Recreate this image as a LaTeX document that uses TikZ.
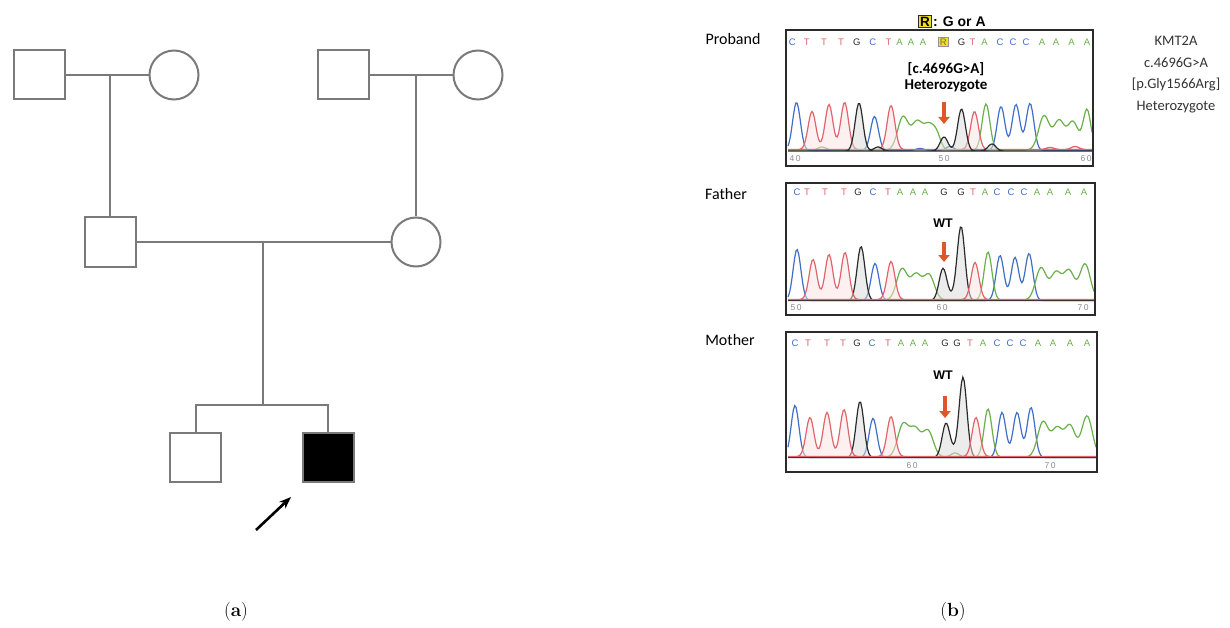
\documentclass[tikz,border=0pt]{standalone}
\usepackage{fontspec}
\newfontfamily\calfont{Carlito}
\newfontfamily\arialfont{Liberation Sans}
\usetikzlibrary{arrows.meta}
\definecolor{pedgray}{HTML}{7A7A7A}
\definecolor{sb}{HTML}{3F6FC6}
\definecolor{sr}{HTML}{E2646B}
\definecolor{sg}{HTML}{6BB04A}
\definecolor{sk}{HTML}{2B2B2B}
\definecolor{mutred}{HTML}{E0552A}
\definecolor{ryellow}{HTML}{F3DE25}
\begin{document}
\begin{tikzpicture}[x=1pt,y=-1pt,
  declare function={
    g(\xa,\ca,\ha)=\ha*exp(-min(((\xa-\ca)/5.5)*((\xa-\ca)/5.5),9));
    gw(\xa,\ca,\ha)=\ha*exp(-min(((\xa-\ca)/7.5)*((\xa-\ca)/7.5),9));
  },
  pedline/.style={draw=pedgray, line width=2pt},
  male/.style={draw=pedgray, line width=2pt, rectangle, minimum width=51pt, minimum height=49pt, inner sep=0pt, fill=white},
  female/.style={draw=pedgray, line width=2pt, circle, minimum size=49pt, inner sep=0pt, fill=white},
  probarrow/.style={line width=2.6pt, -{Stealth[length=12pt,width=9pt]}},
  captext/.style={font=\fontsize{19}{21}\selectfont, inner sep=0pt},
  lab/.style={font=\calfont\fontsize{16}{18}\selectfont, inner sep=0pt},
  info/.style={font=\calfont\fontsize{14.5}{16}\selectfont, text=black!80, inner sep=0pt},
  mut/.style={font=\calfont\bfseries\fontsize{15}{17}\selectfont, inner sep=0pt},
  seq/.style={font=\arialfont\fontsize{9.5}{10}\selectfont, inner sep=0pt},
  axn/.style={font=\arialfont\fontsize{8.5}{9}\selectfont, text=black!45, inner sep=0pt},
  wt/.style={font=\arialfont\bfseries\fontsize{12.5}{13}\selectfont, inner sep=0pt},
  panel/.style={draw=sk, line width=1.1pt},
  redarrow/.style={draw=mutred, line width=4.5pt, -{Triangle[length=7pt,width=11pt]}},
  trace/.style={line width=1.2pt},
  redfill/.style={fill=sr!18, fill opacity=0.5},
  blackfill/.style={fill=black!14, fill opacity=0.5},
]
\useasboundingbox (0,0) rectangle (1230,628);
\fill[white] (0,0) rectangle (1230,628);

% ---------------- pedigree ----------------
\node[male]   (gf1) at (39,75) {};
\node[female] (gm1) at (174,75) {};
\node[male]   (gf2) at (343,75) {};
\node[female] (gm2) at (478,75) {};
\node[male]   (fa)  at (110,242) {};
\node[female] (mo)  at (416,242) {};
\node[male]   (sib) at (195.5,457.5) {};
\node[male, fill=black] (pro) at (328,457.5) {};
\coordinate (m1) at (110,75);
\coordinate (m2) at (416,75);
\coordinate (m3) at (263,242);
\coordinate (s1) at (263,405);
\draw[pedline] (gf1.east) -- (gm1.west);
\draw[pedline] (gf2.east) -- (gm2.west);
\draw[pedline] (m1) -- (fa.north);
\draw[pedline] (m2) -- (mo.north);
\draw[pedline] (fa.east) -- (mo.west);
\draw[pedline] (m3) -- (s1);
\draw[pedline] (sib.north) |- (s1) -| (pro.north);
\coordinate (pat) at (256,530);
\coordinate (pah) at (291,497);
\draw[probarrow] (pat) -- (pah);

\node[captext] (ca) at (236,612) {(\textbf{a})};
\node[captext] (cb) at (953,612) {(\textbf{b})};

% ---------------- header ----------------
\node[font=\arialfont\bfseries\fontsize{13.5}{14}\selectfont, fill=ryellow, draw=sk, line width=0.9pt, inner xsep=1.5pt, inner ysep=1.2pt] (rt) at (925,21.5) {R};
\node[font=\arialfont\bfseries\fontsize{14}{15}\selectfont, anchor=west, inner sep=0pt] (rtx) at ([xshift=1pt]rt.east) {: G or A};

\node[lab] (lp) at (733,39) {Proband};
\node[lab] (lf) at (726,194) {Father};
\node[lab] (lm) at (730,340) {Mother};

\node[info] (k1) at (1176,41) {KMT2A};
\node[info] (k2) at (1176,63) {c.4696G>A};
\node[info] (k3) at (1176,85) {[p.Gly1566Arg]};
\node[info] (k4) at (1176,107) {Heterozygote};

% ---------------- proband panel ----------------
\draw[sb, trace] plot[domain=788:1092, samples=230] (\x, {150.5 - g(\x,796.5,48) - g(\x,874.5,34) - g(\x,1001,44) - g(\x,1016,46) - g(\x,1030,47) - g(\x,950,4) - g(\x,920,2)});
\draw[sg, trace] plot[domain=788:1092, samples=230] (\x, {150 - gw(\x,903,33) - gw(\x,917,27) - gw(\x,929,24) - g(\x,937,12) - g(\x,986,46) - gw(\x,1044,34) - gw(\x,1059,29) - gw(\x,1073,28) - g(\x,1087,40) - g(\x,822,3)});
\draw[sr, trace, redfill] plot[domain=788:1092, samples=230] (\x, {149.5 - g(\x,812,38) - g(\x,829,45) - g(\x,844.6,47) - g(\x,891,44) - g(\x,974.5,38) - g(\x,1075,3) - g(\x,1050,2)}) -- cycle;
\draw[sk, trace, blackfill] plot[domain=788:1092, samples=230] (\x, {151 - g(\x,859,48) - g(\x,944,14) - g(\x,961.5,42) - g(\x,992,7) - g(\x,878,4)}) -- cycle;
\draw[panel] (786,30) rectangle (1093,166);
\draw[sk, line width=1.8pt] (786,166) -- (1093,166);
\foreach \ch/\xx/\cl [count=\i] in {C/792.4/sb, T/806.8/sr, T/824/sr, T/841/sr, G/856.7/sk, C/872.8/sb, T/888.6/sr, A/899.6/sg, A/911/sg, A/923/sg, G/961.5/sk, T/972.5/sr, A/984.5/sg, C/1000/sb, C/1013/sb, C/1026/sb, A/1042/sg, A/1056/sg, A/1071.4/sg, A/1087/sg}
  \node[seq, text=\cl] (pl\i) at (\xx,42) {\ch};
\node[seq, text=sk!70, fill=ryellow, draw=sk!50, line width=0.5pt, inner sep=1.2pt] (plR) at (943.3,42) {R};
\node[mut] (pm1) at (946,69) {[c.4696G>A]};
\node[mut] (pm2) at (946,86) {Heterozygote};
\coordinate (pa1) at (944,102);
\coordinate (pa2) at (944,124);
\draw[redarrow] (pa1) -- (pa2);
\node[axn] (pn1) at (795,159) {4\kern1.5pt0};
\node[axn] (pn2) at (944,159) {5\kern1.5pt0};
\node[axn] (pn3) at (1086,159) {6\kern1.5pt0};

% ---------------- father panel ----------------
\draw[sb, trace] plot[domain=788:1094, samples=230] (\x, {300.5 - g(\x,797,51) - g(\x,875,37) - g(\x,1000,45) - g(\x,1015,43) - g(\x,1029,47)});
\draw[sg, trace] plot[domain=788:1094, samples=230] (\x, {300 - gw(\x,902,31) - gw(\x,916,25) - gw(\x,929,25) - g(\x,988,48) - gw(\x,1041,32) - gw(\x,1056,27) - gw(\x,1069,29) - gw(\x,1085,36)});
\draw[sk, trace, blackfill] plot[domain=788:1094, samples=230] (\x, {300.5 - g(\x,861,54) - g(\x,943,32) - g(\x,961,74) - g(\x,952,3)}) -- cycle;
\draw[sr, trace, redfill] plot[domain=788:1094, samples=230] (\x, {299.5 - g(\x,813,40) - g(\x,829,45) - g(\x,845,47) - g(\x,891,38) - g(\x,975,37)}) -- cycle;
\draw[panel] (786,183) rectangle (1095,315);
\draw[sk, line width=1.8pt] (786,315) -- (1095,315);
\foreach \ch/\xx/\cl [count=\i] in {C/797/sb, T/807/sr, T/825/sr, T/844/sr, G/858/sk, C/873/sb, T/888/sr, A/900/sg, A/913/sg, A/925/sg, G/944/sk, G/961/sk, T/973/sr, A/985/sg, C/997/sb, C/1011/sb, C/1024/sb, A/1037/sg, A/1050/sg, A/1068/sg, A/1084/sg}
  \node[seq, text=\cl] (fl\i) at (\xx,192) {\ch};
\node[wt] (fwt) at (943,223) {WT};
\coordinate (fa1) at (944,242);
\coordinate (fa2) at (944,262);
\draw[redarrow] (fa1) -- (fa2);
\node[axn] (fn1) at (796,308) {5\kern1.5pt0};
\node[axn] (fn2) at (942,308) {6\kern1.5pt0};
\node[axn] (fn3) at (1083,308) {7\kern1.5pt0};

% ---------------- mother panel ----------------
\draw[sb, trace] plot[domain=788:1096, samples=230] (\x, {457.5 - g(\x,795,52) - g(\x,873,39) - g(\x,1002,45) - g(\x,1017,45) - g(\x,1031,50)});
\draw[sg, trace] plot[domain=788:1096, samples=230] (\x, {457 - gw(\x,903,32) - gw(\x,915,27) - gw(\x,928,26) - g(\x,955,4) - g(\x,988,48) - gw(\x,1043,35) - gw(\x,1057,28) - gw(\x,1070,31) - gw(\x,1087,41)});
\draw[sk, trace, blackfill] plot[domain=788:1096, samples=230] (\x, {457.5 - g(\x,860,56) - g(\x,946,34) - g(\x,963,80) - g(\x,954,4)}) -- cycle;
\draw[sr, trace, redfill] plot[domain=788:1096, samples=230] (\x, {456.5 - g(\x,810,39) - g(\x,827,44) - g(\x,844,47) - g(\x,891,40) - g(\x,976,39)}) -- cycle;
\draw[panel] (786,332) rectangle (1097,472);
\draw[sk, line width=1.8pt] (786,472) -- (1097,472);
\foreach \ch/\xx/\cl [count=\i] in {C/795/sb, T/808/sr, T/827/sr, T/843/sr, G/857/sk, C/872/sb, T/888/sr, A/901/sg, A/913/sg, A/925/sg, G/945/sk, G/957/sk, T/970/sr, A/983/sg, C/997/sb, C/1010/sb, C/1023/sb, A/1038/sg, A/1053/sg, A/1070/sg, A/1087/sg}
  \node[seq, text=\cl] (ml\i) at (\xx,343) {\ch};
\node[wt] (mwt) at (943,375) {WT};
\coordinate (ma1) at (945,396);
\coordinate (ma2) at (945,418);
\draw[redarrow] (ma1) -- (ma2);
\node[axn] (mn1) at (912,466) {6\kern1.5pt0};
\node[axn] (mn2) at (1050,466) {7\kern1.5pt0};
\end{tikzpicture}
\end{document}
